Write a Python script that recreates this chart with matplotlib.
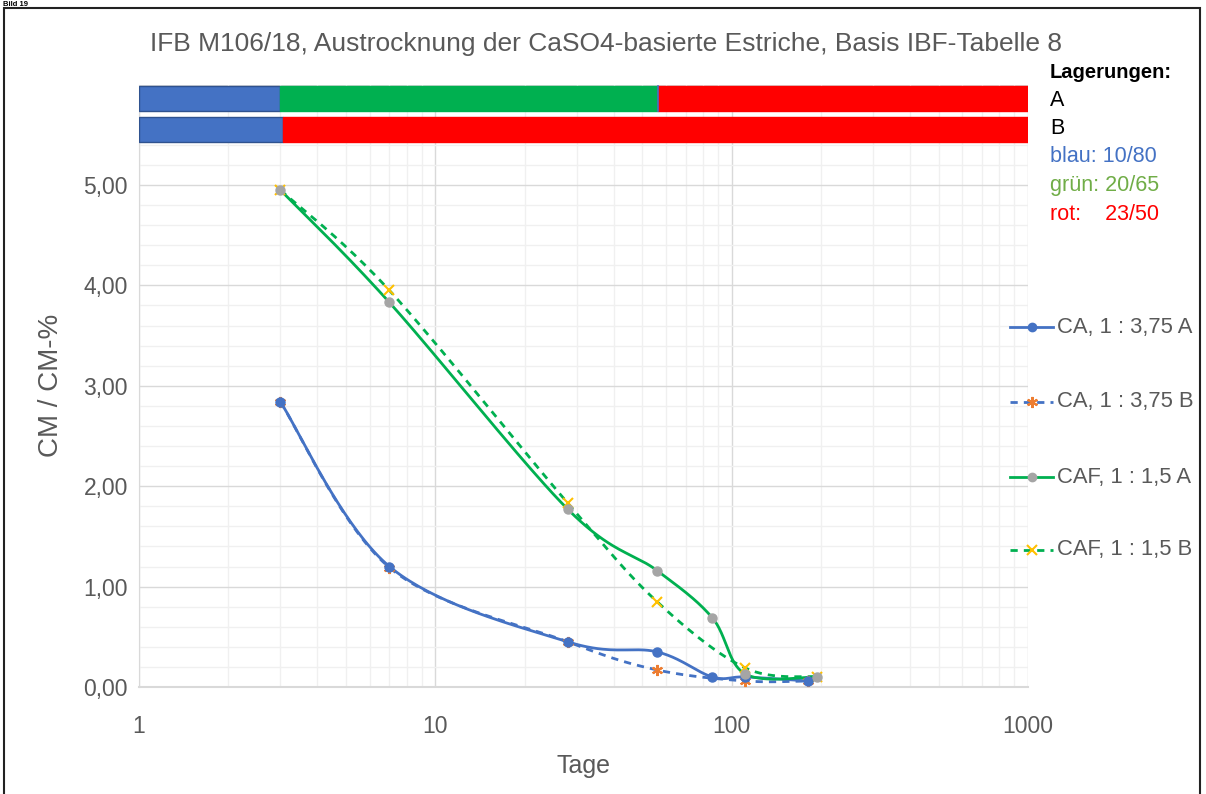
import numpy as np
import matplotlib
matplotlib.use("Agg")
import matplotlib.pyplot as plt
from matplotlib.lines import Line2D
from matplotlib.patches import Rectangle
from matplotlib.ticker import FixedLocator, NullFormatter

plt.rcParams['font.family'] = ['Liberation Sans', 'DejaVu Sans']

# ---------------- data ----------------
title = "IFB M106/18, Austrocknung der CaSO4-basierte Estriche, Basis IBF-Tabelle 8"
x_label = "Tage"
y_label = "CM / CM-%"

days_ca_a = [3, 7, 28, 56, 86, 111, 181]
vals_ca_a = [2.84, 1.20, 0.45, 0.35, 0.10, 0.10, 0.06]

days_ca_b = [3, 7, 28, 56, 111, 181]
vals_ca_b = [2.84, 1.19, 0.45, 0.17, 0.06, 0.06]

days_caf_a = [3, 7, 28, 56, 86, 111, 194]
vals_caf_a = [4.95, 3.83, 1.77, 1.16, 0.69, 0.13, 0.10]

days_caf_b = [3, 7, 28, 56, 111, 194]
vals_caf_b = [4.95, 3.95, 1.83, 0.85, 0.19, 0.10]

series_labels = ["CA, 1 : 3,75 A", "CA, 1 : 3,75 B", "CAF, 1 : 1,5 A", "CAF, 1 : 1,5 B"]

# storage bars (Lagerungen): segment boundaries in days
bar_a_edges = [1, 3, 56.5, 1000]
bar_a_colors = ["#4472C4", "#00B050", "#FF0000"]
bar_b_edges = [1, 3.05, 1000]
bar_b_colors = ["#4472C4", "#FF0000"]

y_ticks = [0, 1, 2, 3, 4, 5]
y_tick_labels = ["0,00", "1,00", "2,00", "3,00", "4,00", "5,00"]
x_ticks = [1, 10, 100, 1000]
x_tick_labels = ["1", "10", "100", "1000"]

info_lines = [("Lagerungen:", "#000000", "bold"), ("A", "#000000", "normal"),
              ("B", "#000000", "normal"), ("blau: 10/80", "#4472C4", "normal"),
              ("grün: 20/65", "#70AD47", "normal"), ("rot:    23/50", "#FF0000", "normal")]

# ---------------- figure ----------------
W, H = 1206, 794
fig = plt.figure(figsize=(W / 100, H / 100), dpi=100)
fig.patch.set_facecolor("white")

ax_l, ax_r, ax_b, ax_t = 139, 1028, 687, 84.6
ax = fig.add_axes([ax_l / W, 1 - ax_b / H, (ax_r - ax_l) / W, (ax_b - ax_t) / H])
ax.set_xscale("log")
ax.set_xlim(1, 1000)
ax.set_ylim(0, 6)

px_per_dec = (ax_r - ax_l) / 3.0
px_per_unit = (ax_b - ax_t) / 6.0

# grid
ax.set_yticks(y_ticks)
ax.set_yticklabels(y_tick_labels)
ax.yaxis.set_minor_locator(FixedLocator(np.arange(0.2, 6.0, 0.2)))
ax.set_xticks(x_ticks)
ax.set_xticklabels(x_tick_labels)
ax.xaxis.set_minor_formatter(NullFormatter())
ax.grid(which="minor", color="#F0F0F0", linewidth=1.0)
ax.grid(which="major", color="#D9D9D9", linewidth=1.0)
ax.axhline(6, color="#D9D9D9", lw=1.0, zorder=0)
ax.set_axisbelow(True)
for s in ["top", "right"]:
    ax.spines[s].set_visible(False)
ax.spines["left"].set_color("#D9D9D9")
ax.spines["bottom"].set_color("#D9D9D9")
ax.spines["bottom"].set_linewidth(1.5)
ax.tick_params(which="both", length=0)
ax.tick_params(axis="y", labelsize=16.5, labelcolor="#595959", pad=8)
ax.tick_params(axis="x", labelsize=16.5, labelcolor="#595959", pad=20)

ax.set_xlabel(x_label, fontsize=18, color="#595959", labelpad=12)
ax.set_ylabel(y_label, fontsize=20, color="#595959", labelpad=14)
ax.set_title(title, fontsize=19, color="#595959", pad=24, x=0.525)


def smooth(xs, ys, n=40):
    u = np.log10(np.asarray(xs, float)) * px_per_dec
    v = np.asarray(ys, float) * px_per_unit
    P = np.column_stack([u, v])
    m = len(P)
    out = []
    for i in range(m - 1):
        p0 = P[i - 1] if i > 0 else P[i]
        p1 = P[i]
        p2 = P[i + 1]
        p3 = P[i + 2] if i + 2 < m else P[i + 1]
        c1 = p1 + (p2 - p0) / 6.0
        c2 = p2 - (p3 - p1) / 6.0
        t = np.linspace(0, 1, n)[:, None]
        seg = ((1 - t) ** 3) * p1 + 3 * ((1 - t) ** 2) * t * c1 + 3 * (1 - t) * t ** 2 * c2 + t ** 3 * p2
        out.append(seg if i == 0 else seg[1:])
    S = np.vstack(out)
    return 10 ** (S[:, 0] / px_per_dec), S[:, 1] / px_per_unit


blue = "#4472C4"
green = "#00B050"
orange = "#ED7D31"
gray = "#A5A5A5"
yellow = "#FFC000"
dash = (0, (2.6, 2.2))
lw = 2.0
asterisk = (6, 2, 0)

specs = [
    (days_ca_b, vals_ca_b, blue, dash, orange, asterisk, 8, 1.5),
    (days_caf_b, vals_caf_b, green, dash, yellow, "x", 7, 1.5),
    (days_ca_a, vals_ca_a, blue, "-", blue, "o", 6.5, 1.0),
    (days_caf_a, vals_caf_a, green, "-", gray, "o", 6.5, 1.0),
]
for xs, ys, lc, ls, mc, mk, ms, mew in specs:
    sx, sy = smooth(xs, ys)
    ax.plot(sx, sy, color=lc, lw=lw, ls=ls, zorder=3, solid_capstyle="round")
for xs, ys, lc, ls, mc, mk, ms, mew in specs:
    ax.plot(xs, ys, ls="none", marker=mk, ms=ms, color=mc, mec=mc, mew=mew, zorder=4)

# storage bars
bar_h = 0.25
for edges, cols, yc in [(bar_a_edges, bar_a_colors, 5.865), (bar_b_edges, bar_b_colors, 5.555)]:
    for i, c in enumerate(cols):
        ec = "#2F528F" if c == "#4472C4" else c
        ax.barh(yc, edges[i + 1] - edges[i], left=edges[i], height=bar_h, color=c,
                edgecolor=ec, linewidth=1.0, zorder=5)
ax.plot([bar_a_edges[2], bar_a_edges[2]], [5.865 - bar_h / 2, 5.865 + bar_h / 2],
        color="#4472C4", lw=1.2, zorder=6)

# info text
info_y = [73, 101, 128, 157, 186, 214]
for (txt, col, fw), yy in zip(info_lines, info_y):
    fig.text(1050 / W, 1 - yy / H, txt, color=col, fontweight=fw, fontsize=15.5 if fw == "normal" else 14.5,
             va="center", ha="left")

# legend (outside right of plot)
leg_y = [327, 402, 477, 550]
leg_style = [("-", blue, "o", blue, 6, 1.0), (dash, blue, asterisk, orange, 8, 1.5),
             ("-", green, "o", gray, 6, 1.0), (dash, green, "x", yellow, 7, 1.5)]
for (ls, lc, mk, mc, ms, mew), lab, yy in zip(leg_style, series_labels, leg_y):
    yf = 1 - yy / H
    fig.add_artist(Line2D([1010 / W, 1053 / W], [yf, yf], color=lc, lw=lw, ls=ls,
                          transform=fig.transFigure))
    fig.add_artist(Line2D([1031.5 / W], [yf], marker=mk, ms=ms, color=mc, mec=mc, mew=mew,
                          ls="none", transform=fig.transFigure))
    fig.text(1057 / W, yf, lab, color="#595959", fontsize=15.8, va="center", ha="left")

# outer frame and caption
fig.add_artist(Rectangle((4 / W, -0.05), (1200 - 4) / W, 1.05 - 8 / H, transform=fig.transFigure,
                         fill=False, edgecolor="#222222", linewidth=1.5))
fig.text(3 / W, 1.0 - 0.5 / H, "Bild 19", fontsize=5.5, fontweight="bold", va="top", ha="left")

fig.savefig("out.png", dpi=100)
